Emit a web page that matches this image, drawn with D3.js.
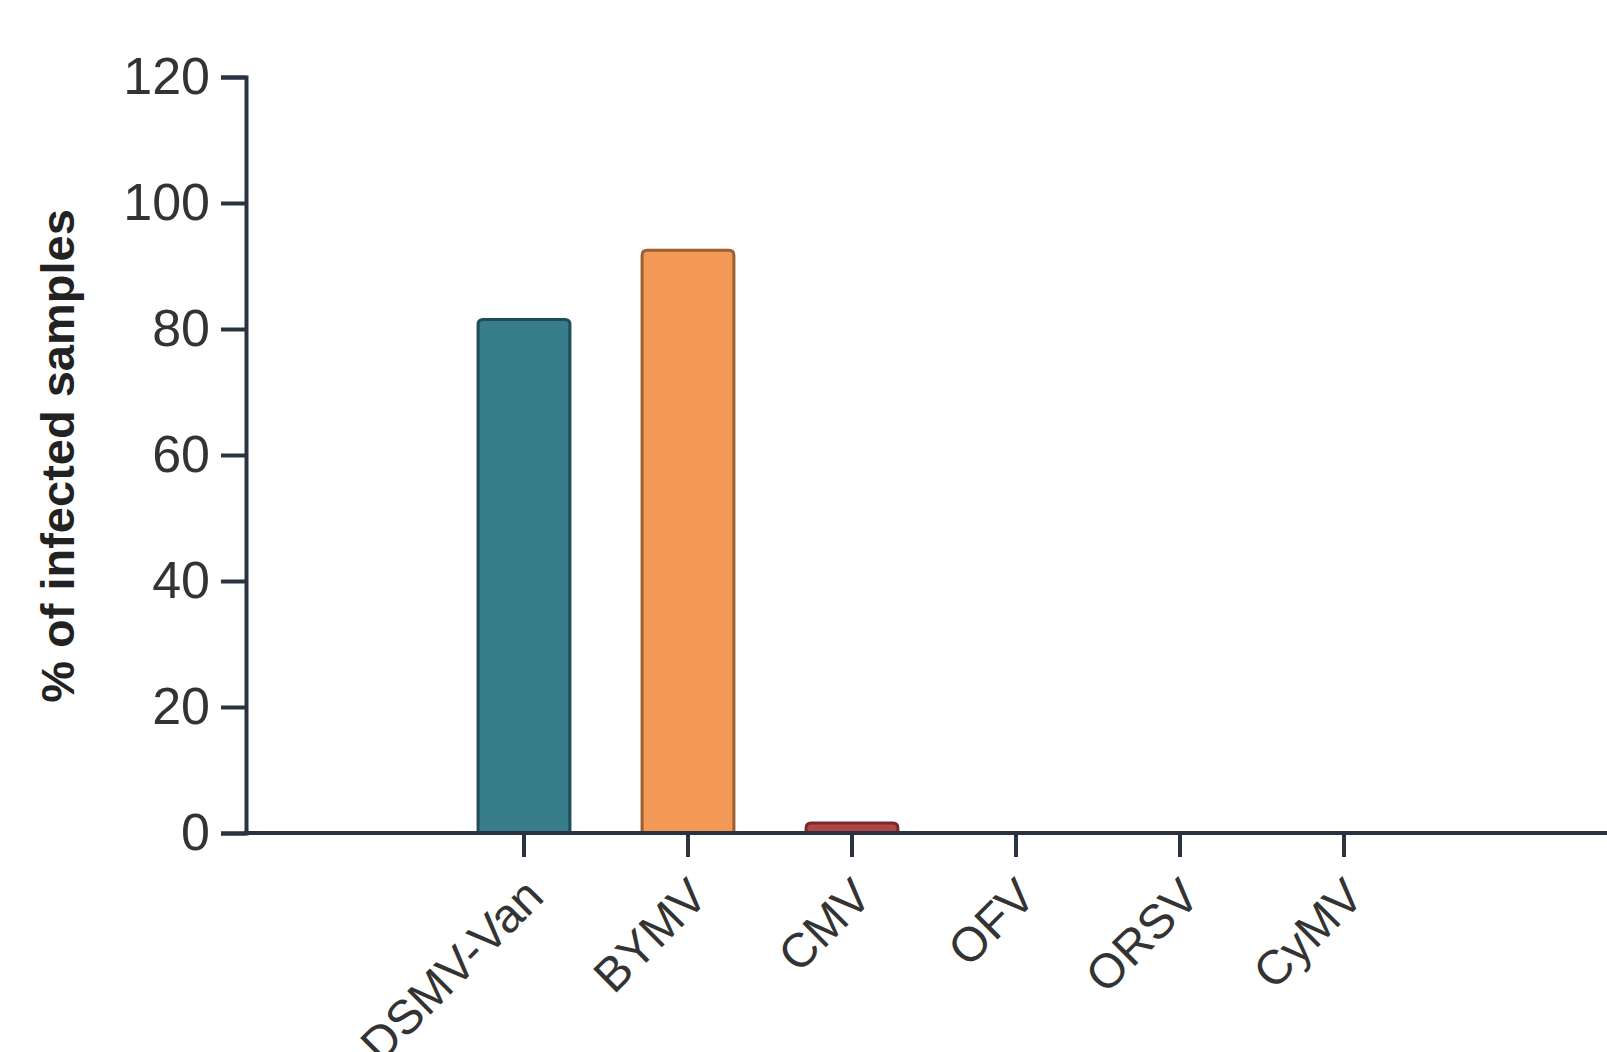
<!DOCTYPE html>
<meta charset="utf-8">
<script src="https://d3js.org/d3.v7.min.js"></script>
<style>
  body { margin: 0; background: #fff; }
</style>
<div id="chart"></div>
<script>
  // Data
  var categories = ["DSMV-Van", "BYMV", "CMV", "OFV", "ORSV", "CyMV"];
  var values = [81.5, 92.5, 1.6, 0, 0, 0];
  var fills = ["#377d8a", "#f29a55", "#b04545", "#777", "#777", "#777"];
  var strokes = ["#1f4c55", "#9a5f32", "#7a2a2a", "#555", "#555", "#555"];
  var yTicks = [0, 20, 40, 60, 80, 100, 120];

  var width = 1607, height = 1052;
  var x0 = 246, y0 = 833, yTop = 77;
  var font = "Liberation Sans, Arial, sans-serif";

  var svg = d3.select("#chart").append("svg")
    .attr("width", width)
    .attr("height", height);

  var y = d3.scaleLinear().domain([0, 120]).range([y0, yTop]);
  var x = d3.scaleBand()
    .domain(categories)
    .range([442, 1426])
    .paddingInner(0.44)
    .paddingOuter(0.22);

  // Bars (slightly rounded top corners)
  var r = 5;
  svg.append("g").selectAll("path")
    .data(categories.filter((c, i) => values[i] > 0))
    .join("path")
    .attr("d", function(c) {
      var i = categories.indexOf(c);
      var bx = x(c), bw = x.bandwidth(), by = y(values[i]), bb = y(0);
      var rr = Math.min(r, (bb - by) / 2);
      return "M" + bx + "," + bb +
        "V" + (by + rr) +
        "Q" + bx + "," + by + " " + (bx + rr) + "," + by +
        "H" + (bx + bw - rr) +
        "Q" + (bx + bw) + "," + by + " " + (bx + bw) + "," + (by + rr) +
        "V" + bb + "Z";
    })
    .attr("fill", (c) => fills[categories.indexOf(c)])
    .attr("stroke", (c) => strokes[categories.indexOf(c)])
    .attr("stroke-width", 3);

  // Y axis
  var yAxis = svg.append("g")
    .attr("transform", "translate(" + x0 + ",0)")
    .call(d3.axisLeft(y).tickValues(yTicks).tickSize(25).tickPadding(11));
  yAxis.select(".domain").attr("stroke", "#2b3340").attr("stroke-width", 4);
  yAxis.selectAll(".tick line").attr("stroke", "#2b3340").attr("stroke-width", 4);
  yAxis.selectAll(".tick text")
    .attr("fill", "#333")
    .style("font-family", font)
    .style("font-size", "52px");

  // X axis
  var xAxis = svg.append("g")
    .attr("transform", "translate(0," + y0 + ")")
    .call(d3.axisBottom(x).tickSize(24).tickSizeOuter(0));
  xAxis.select(".domain").remove();
  svg.append("line")
    .attr("x1", x0 - 2).attr("x2", width)
    .attr("y1", y0).attr("y2", y0)
    .attr("stroke", "#2b3340").attr("stroke-width", 4);
  xAxis.selectAll(".tick line").attr("stroke", "#2b3340").attr("stroke-width", 4);
  xAxis.selectAll(".tick text")
    .attr("fill", "#333")
    .style("font-family", font)
    .style("font-size", "48px")
    .attr("text-anchor", "end")
    .attr("dy", null)
    .attr("transform", "translate(22,66) rotate(-45)")
    .attr("x", 0).attr("y", 0);

  // Y axis title
  svg.append("text")
    .attr("transform", "translate(74,456) rotate(-90)")
    .attr("text-anchor", "middle")
    .attr("fill", "#222")
    .style("font-family", font)
    .style("font-weight", "bold")
    .style("font-size", "47px")
    .text("% of infected samples");
</script>
